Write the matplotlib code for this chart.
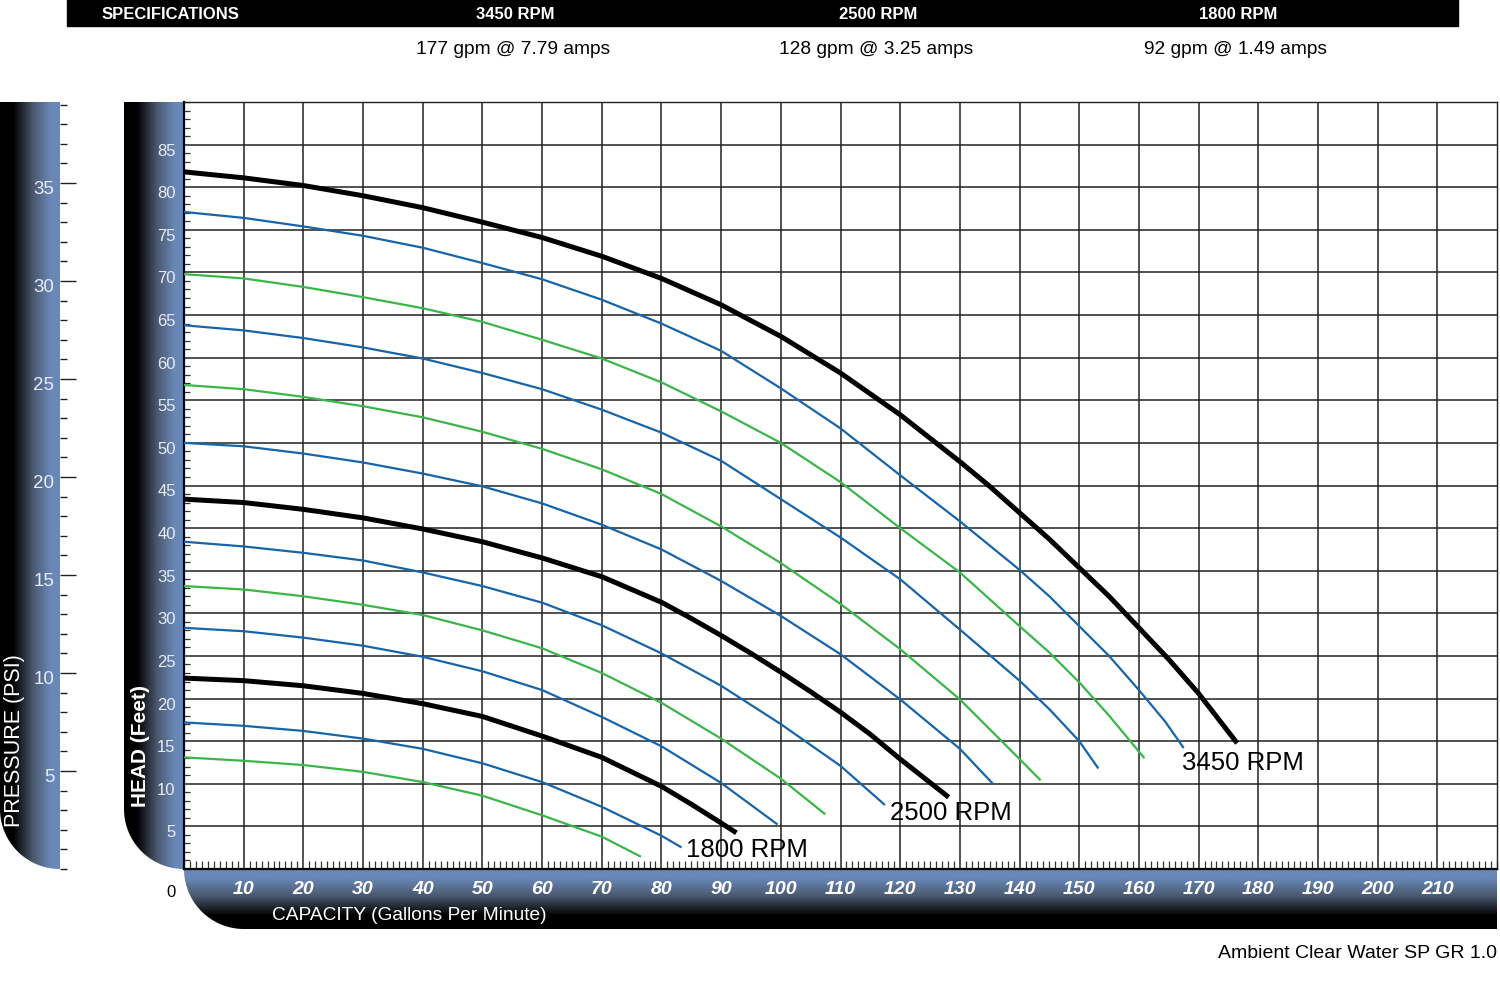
import numpy as np
import matplotlib
matplotlib.use("Agg")
import matplotlib.pyplot as plt
from matplotlib.path import Path
from matplotlib.patches import PathPatch, Rectangle
from matplotlib.colors import LinearSegmentedColormap
from matplotlib.ticker import MultipleLocator
from matplotlib.transforms import ScaledTranslation

plt.rcParams['font.family'] = ['Liberation Sans', 'DejaVu Sans']
NARROW = ['Liberation Sans Narrow', 'Liberation Sans']

# Curvas de la bomba (caudal gpm, altura ft), de arriba abajo
gpm_3450 = [0, 10, 20, 30, 40, 50, 60, 70, 80, 90, 100, 110, 120, 130, 135, 140, 145, 150, 155, 160, 165, 170, 176.2]
head_3450 = [81.8, 81.1, 80.2, 79.0, 77.6, 75.9, 74.1, 71.9, 69.3, 66.2, 62.5, 58.2, 53.3, 47.8, 44.9, 41.8, 38.7, 35.35, 32.0, 28.3, 24.6, 20.6, 15.0]

gpm_b1 = [0, 10, 20, 30, 40, 50, 60, 70, 80, 90, 100, 110, 120, 130, 140, 145, 150, 155, 160, 164.4, 167.4]
head_b1 = [77.1, 76.4, 75.4, 74.3, 72.9, 71.1, 69.2, 66.8, 64.0, 60.8, 56.4, 51.7, 46.2, 40.8, 35.1, 32.0, 28.5, 25.0, 21.0, 17.3, 14.3]

gpm_g1 = [0, 10, 20, 30, 40, 50, 60, 70, 80, 90, 100, 110, 120, 130, 140, 145, 150, 155, 160.8]
head_g1 = [69.8, 69.3, 68.3, 67.1, 65.8, 64.2, 62.1, 59.9, 57.1, 53.7, 50.0, 45.4, 40.0, 34.8, 28.5, 25.4, 21.9, 18.0, 13.1]

gpm_b2 = [0, 10, 20, 30, 40, 50, 60, 70, 80, 90, 100, 110, 120, 130, 140, 145, 150, 153.1]
head_b2 = [63.8, 63.2, 62.3, 61.2, 59.9, 58.2, 56.3, 53.9, 51.2, 47.9, 43.4, 38.9, 34.0, 28.1, 22.1, 18.75, 15.0, 11.9]

gpm_g2 = [0, 10, 20, 30, 40, 50, 60, 70, 80, 90, 100, 110, 120, 130, 140, 143.4]
head_g2 = [56.8, 56.3, 55.4, 54.3, 53.0, 51.3, 49.3, 46.9, 44.0, 40.2, 35.9, 31.1, 25.8, 19.9, 12.9, 10.5]

gpm_b3 = [0, 10, 20, 30, 40, 50, 60, 70, 80, 90, 100, 110, 120, 130, 135.4]
head_b3 = [50.0, 49.6, 48.75, 47.7, 46.4, 44.9, 42.9, 40.4, 37.5, 33.8, 29.7, 25.2, 19.9, 14.1, 10.1]

gpm_2500 = [0, 10, 20, 30, 40, 50, 60, 70, 80, 85, 90, 95, 100, 105, 110, 115, 120, 127.8]
head_2500 = [43.4, 43.0, 42.2, 41.2, 39.9, 38.4, 36.5, 34.3, 31.3, 29.4, 27.4, 25.3, 23.1, 20.8, 18.4, 15.8, 12.9, 8.6]

gpm_b4 = [0, 10, 20, 30, 40, 50, 60, 70, 80, 90, 100, 110, 117.3]
head_b4 = [38.4, 37.85, 37.1, 36.2, 34.8, 33.2, 31.25, 28.6, 25.3, 21.5, 17.0, 12.1, 7.6]

gpm_g3 = [0, 10, 20, 30, 40, 50, 60, 70, 80, 90, 100, 107.3]
head_g3 = [33.2, 32.8, 32.0, 31.0, 29.8, 28.0, 25.9, 23.0, 19.5, 15.3, 10.6, 6.5]

gpm_b5 = [0, 10, 20, 30, 40, 50, 60, 70, 80, 90, 99.3]
head_b5 = [28.3, 27.9, 27.15, 26.2, 24.9, 23.2, 21.0, 17.85, 14.4, 10.1, 5.3]

gpm_1800 = [0, 10, 20, 30, 40, 50, 60, 70, 80, 85, 90, 92.2]
head_1800 = [22.4, 22.1, 21.5, 20.6, 19.4, 17.9, 15.6, 13.1, 9.7, 7.6, 5.4, 4.4]

gpm_b6 = [0, 10, 20, 30, 40, 50, 60, 70, 80, 83.2]
head_b6 = [17.2, 16.8, 16.2, 15.3, 14.1, 12.4, 10.2, 7.3, 3.9, 2.6]

gpm_g4 = [0, 10, 20, 30, 40, 50, 60, 70, 76.4]
head_g4 = [13.1, 12.7, 12.2, 11.4, 10.2, 8.6, 6.3, 3.8, 1.5]

blue_curves = [(gpm_b1, head_b1), (gpm_b2, head_b2), (gpm_b3, head_b3),
               (gpm_b4, head_b4), (gpm_b5, head_b5), (gpm_b6, head_b6)]
green_curves = [(gpm_g1, head_g1), (gpm_g2, head_g2), (gpm_g3, head_g3), (gpm_g4, head_g4)]
black_curves = [(gpm_3450, head_3450, '3450 RPM', (-54, -21)),
                (gpm_2500, head_2500, '2500 RPM', (-57, -16)),
                (gpm_1800, head_1800, '1800 RPM', (-48, -17))]

capacity_ticks = list(range(10, 220, 10))
head_ticks = list(range(5, 90, 5))
psi_ticks = list(range(5, 40, 5))

spec_speeds = ['3450 RPM', '2500 RPM', '1800 RPM']
spec_values = ['177 gpm @ 7.79 amps', '128 gpm @ 3.25 amps', '92 gpm @ 1.49 amps']

FT_PER_PSI = 2.3
BLUE = '#1764a8'
GREEN = '#3bb54a'

W, H = 1500, 1003
px0, px1, py0, py1 = 184, 1497, 103, 870

fig = plt.figure(figsize=(W / 100, H / 100), dpi=100)

# capa de fondo en pixeles: barras con degradado y cabecera
bg = fig.add_axes([0, 0, 1, 1], zorder=0)
bg.axis('off')
bg.set_autoscale_on(False)
bg.set_xlim(0, W)
bg.set_ylim(H, 0)

cmap_bar = LinearSegmentedColormap.from_list(
    'bar', [(0, '#000000'), (0.22, '#000000'), (0.55, '#4a586e'), (0.85, '#6988b8'), (1, '#6988b8')])

t = np.linspace(0, np.pi / 2, 40)
grad = np.linspace(0, 1, 256)


def gradient_shape(verts, extent, img):
    patch = PathPatch(Path(verts), facecolor='none', edgecolor='none')
    bg.add_patch(patch)
    im = bg.imshow(img, extent=extent, cmap=cmap_bar, aspect='auto',
                   interpolation='bilinear', zorder=1)
    im.set_clip_path(patch)


for xl in (0, 124):
    arc = np.column_stack([xl + 60 - 60 * np.sin(t), py1 - 60 + 60 * np.cos(t)])
    verts = np.vstack([[xl, py0], [xl + 60, py0], arc, [xl, py0]])
    gradient_shape(verts, (xl, xl + 60, py1, py0), grad[None, :])

arc = np.column_stack([px0 + 60 - 60 * np.sin(t), py1 + 60 * np.cos(t)])
verts = np.vstack([[px0, py1], [px1, py1], [px1, py1 + 60], arc, [px0, py1]])
gradient_shape(verts, (px0, px1, py1 + 60, py1), grad[::-1][:, None])

bg.add_patch(Rectangle((67, 0), 1391, 27, color='black', zorder=2))
bg.text(102, 14, 'SPECIFICATIONS', color='white', fontweight='bold', fontsize=12,
        ha='left', va='center', family=NARROW, zorder=3)
for name, val, xc in zip(spec_speeds, spec_values, [515, 878, 1238]):
    bg.text(xc, 14, name, color='white', fontweight='bold', fontsize=12,
            ha='center', va='center', family=NARROW, zorder=3)
    bg.text(xc - 2, 49, val, color='black', fontsize=13.8,
            ha='center', va='center', family=NARROW, zorder=3)

bg.text(141, 746, 'HEAD (Feet)', color='white', fontweight='bold', fontsize=15,
        rotation=90, ha='center', va='center', zorder=3)
bg.text(15, 741, 'PRESSURE (PSI)', color='white', fontsize=15.5,
        rotation=90, ha='center', va='center', zorder=3)
bg.text(272, 916, 'CAPACITY (Gallons Per Minute)', color='white', fontsize=13.8,
        ha='left', va='center', zorder=3)
bg.text(1497, 954, 'Ambient Clear Water SP GR 1.0', color='black', fontsize=14,
        ha='right', va='center', zorder=3)

# grafico principal
ax = fig.add_axes([px0 / W, 1 - py1 / H, (px1 - px0) / W, (py1 - py0) / H], zorder=2)
ax.set_xlim(0, 220)
ax.set_ylim(0, 90)
ax.set_axisbelow(True)

for q, h in blue_curves:
    ax.plot(q, h, color=BLUE, lw=1.6, zorder=3)
for q, h in green_curves:
    ax.plot(q, h, color=GREEN, lw=1.6, zorder=3)
for q, h, label, off in black_curves:
    ax.plot(q, h, color='black', lw=3.6, zorder=4)
    ax.annotate(label, xy=(q[-1], h[-1]), xytext=off, textcoords='offset pixels',
                fontsize=18.5, ha='left', va='center', zorder=5)

ax.annotate('0', xy=(0, 0), xytext=(-13, -23), textcoords='offset pixels',
            fontsize=12, ha='center', va='center', annotation_clip=False)

ax.set_xticks(capacity_ticks)
ax.set_xticklabels([str(v) for v in capacity_ticks])
ax.set_yticks(head_ticks)
ax.set_yticklabels([str(v) for v in head_ticks])
ax.xaxis.set_minor_locator(MultipleLocator(1))
ax.yaxis.set_minor_locator(MultipleLocator(1))
ax.grid(which='major', color='#222222', lw=1.1)
ax.tick_params(which='major', length=0)
ax.tick_params(axis='x', which='major', pad=8, labelcolor='white', labelsize=14)
ax.tick_params(axis='y', which='major', pad=6, labelcolor='#e6ecf5', labelsize=12)
ax.tick_params(axis='x', which='minor', direction='in', length=6, width=0.9, color='#333333')
ax.tick_params(axis='y', which='minor', direction='in', length=4.5, width=0.9, color='#333333')
for lab in ax.get_xticklabels():
    lab.set_fontweight('bold')
    lab.set_fontstyle('italic')
    lab.set_family(NARROW)
for side in ('left', 'bottom'):
    ax.spines[side].set_linewidth(1.6)
for side in ('top', 'right'):
    ax.spines[side].set_linewidth(1.0)
    ax.spines[side].set_color('#222222')

# eje de presion (psi)
pax = fig.add_axes([60 / W, 1 - py1 / H, 0.001, (py1 - py0) / H], zorder=3)
pax.set_facecolor('none')
pax.set_ylim(0, 90 / FT_PER_PSI)
pax.set_xticks([])
pax.set_yticks(psi_ticks)
pax.set_yticklabels([str(v) for v in psi_ticks])
pax.yaxis.set_minor_locator(MultipleLocator(1))
for s in pax.spines.values():
    s.set_visible(False)
pax.tick_params(axis='y', which='major', direction='in', length=11.5, width=1.0,
                color='#222222', labelcolor='#e6ecf5', labelsize=13.5, pad=4)
pax.tick_params(axis='y', which='minor', direction='in', length=5, width=1.0, color='#222222')

# las etiquetas de los ejes verticales quedan un poco por debajo de su linea
shift = ScaledTranslation(0, -4 / 100, fig.dpi_scale_trans)
for lab in ax.get_yticklabels() + pax.get_yticklabels():
    lab.set_transform(lab.get_transform() + shift)

fig.savefig('out.png', dpi=100)
